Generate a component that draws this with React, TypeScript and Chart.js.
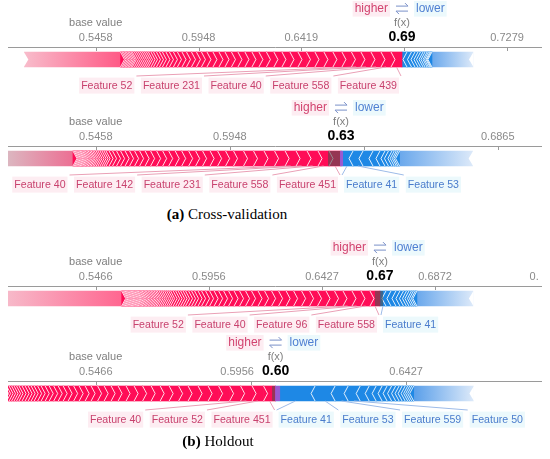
import React, { useEffect, useRef } from 'react';
import { Chart, registerables } from 'chart.js';
Chart.register(...registerables);

const SANS = "'Liberation Sans', Arial, Helvetica, sans-serif";
const RED = '#ff0d57';
const BLUE = '#1e88e5';

// ---------- (a) Cross-validation, sample 1 ----------
const cv1Base = 0.5458;
const cv1Fx = 0.6856;
const cv1Ticks = ['0.5458', '0.5948', '0.6419', '0.6865', '0.7279'];
const cv1RedNames = ['Feature 439', 'Feature 558', 'Feature 40', 'Feature 231', 'Feature 52'];
const cv1Red = [0.0214, 0.0195, 0.0195, 0.0195, 0.0185, 0.0185, 0.0175, 0.0175, 0.0175, 0.0165, 0.0165, 0.0156, 0.0156, 0.0156, 0.0146, 0.0146, 0.0136, 0.0136, 0.0136, 0.0126, 0.0126, 0.0117, 0.0117, 0.0117, 0.0107, 0.0097, 0.0097, 0.0097, 0.0088, 0.0088, 0.0078, 0.0078, 0.0068, 0.0068, 0.0058, 0.0058, 0.0058, 0.0049, 0.0049, 0.0039, 0.0039, 0.0039, 0.0039, 0.0039, 0.0039, 0.0039, 0.0039, 0.0029, 0.0029, 0.0029, 0.0029, 0.0029, 0.0029, 0.0029, 0.0029];
const cv1RedRest = 0.187;
const cv1BlueNames: string[] = [];
const cv1Blue = [0.0097, 0.0088, 0.0068, 0.0058, 0.0049, 0.0049, 0.0039, 0.0039, 0.0029, 0.0029, 0.0019, 0.0019];
const cv1BlueRest = 0.0798;

// ---------- (a) Cross-validation, sample 2 ----------
const cv2Base = 0.5458;
const cv2Fx = 0.6341;
const cv2Ticks = ['0.5458', '0.5948', '0.6419', '0.6865'];
const cv2RedNames = ['Feature 451', 'Feature 558', 'Feature 231', 'Feature 142', 'Feature 40'];
const cv2Red = [0.0179, 0.0164, 0.0164, 0.0164, 0.0164, 0.0157, 0.0157, 0.0157, 0.0149, 0.0149, 0.0119, 0.0119, 0.0112, 0.0112, 0.0104, 0.0104, 0.0104, 0.0097, 0.0097, 0.0090, 0.0090, 0.0090, 0.0082, 0.0082, 0.0075, 0.0075, 0.0067, 0.0067, 0.0060, 0.0060, 0.0052, 0.0045, 0.0030, 0.0030, 0.0030, 0.0030, 0.0027, 0.0027, 0.0024, 0.0024, 0.0022, 0.0022, 0.0022, 0.0021, 0.0021, 0.0019, 0.0019, 0.0018, 0.0018, 0.0018, 0.0018, 0.0018, 0.0018, 0.0018];
const cv2RedRest = 0.15;
const cv2BlueNames = ['Feature 41', 'Feature 53'];
const cv2Blue = [0.0179, 0.0149, 0.0149, 0.0104, 0.0075, 0.0052, 0.0052, 0.0034, 0.0030, 0.0025, 0.0025];
const cv2BlueRest = 0.109;

// ---------- (b) Holdout, sample 1 ----------
const ho1Base = 0.5466;
const ho1Fx = 0.6659;
const ho1Ticks = ['0.5466', '0.5956', '0.6427', '0.6872', '0.7279'];
const ho1RedNames = ['Feature 558', 'Feature 96', 'Feature 40', 'Feature 52'];
const ho1Red = [0.0177, 0.0159, 0.0159, 0.0159, 0.0150, 0.0150, 0.0150, 0.0141, 0.0141, 0.0141, 0.0133, 0.0133, 0.0124, 0.0124, 0.0115, 0.0115, 0.0106, 0.0106, 0.0097, 0.0097, 0.0088, 0.0088, 0.0080, 0.0080, 0.0071, 0.0071, 0.0062, 0.0062, 0.0053, 0.0053, 0.0053, 0.0044, 0.0044, 0.0044, 0.0044, 0.0044, 0.0044, 0.0035, 0.0035, 0.0035, 0.0035, 0.0032, 0.0032, 0.0032, 0.0028, 0.0028, 0.0028, 0.0027, 0.0027, 0.0027, 0.0027, 0.0025, 0.0025, 0.0025, 0.0023, 0.0023, 0.0023, 0.0021, 0.0021, 0.0021, 0.0021, 0.0021, 0.0021, 0.0021, 0.0021, 0.0021, 0.0021, 0.0021, 0.0021, 0.0021, 0.0021];
const ho1RedRest = 0.25;
const ho1BlueNames = ['Feature 41'];
const ho1Blue = [0.0106, 0.0088, 0.0088, 0.0071, 0.0062, 0.0053, 0.0044, 0.0044, 0.0035, 0.0035, 0.0027];
const ho1BlueRest = 0.099;

// ---------- (b) Holdout, sample 2 ----------
const ho2Base = 0.5466;
const ho2Fx = 0.6032;
const ho2Ticks = ['0.5466', '0.5956', '0.6427'];
const ho2RedNames = ['Feature 451', 'Feature 52', 'Feature 40'];
const ho2Red = [0.0155, 0.0148, 0.0148, 0.0142, 0.0142, 0.0135, 0.0129, 0.0129, 0.0122, 0.0122, 0.0116, 0.0116, 0.0110, 0.0110, 0.0103, 0.0103, 0.0090, 0.0090, 0.0084, 0.0084, 0.0077, 0.0077, 0.0071, 0.0071, 0.0064, 0.0064, 0.0058, 0.0058, 0.0052, 0.0052, 0.0045, 0.0045, 0.0039, 0.0039, 0.0039, 0.0039, 0.0039, 0.0032, 0.0032, 0.0032, 0.0032, 0.0032, 0.0026, 0.0026, 0.0026, 0.0026];
const ho2RedRest = 0.05;
const ho2BlueNames = ['Feature 41', 'Feature 53', 'Feature 559', 'Feature 50'];
const ho2Blue = [0.0509, 0.0258, 0.0168, 0.0155, 0.0116, 0.0090, 0.0077, 0.0064, 0.0058, 0.0052, 0.0045, 0.0039, 0.0039, 0.0032, 0.0026, 0.0026, 0.0026];
const ho2BlueRest = 0.077;

const logit = (p: number) => Math.log(p / (1 - p));

type Plot = {
  base: number; fx: number; ticks: string[];
  redNames: string[]; red: number[]; redRest: number;
  blueNames: string[]; blue: number[]; blueRest: number;
  range: [number, number]; top: number;
  redRestColors: [string, string]; blueRestColors: [string, string];
  dark?: [number, number]; purple?: [number, number];
};

const PLOTS: Plot[] = [
  { base: cv1Base, fx: cv1Fx, ticks: cv1Ticks, redNames: cv1RedNames, red: cv1Red, redRest: cv1RedRest,
    blueNames: cv1BlueNames, blue: cv1Blue, blueRest: cv1BlueRest, range: [0.0131, 1.052], top: 1,
    redRestColors: ['#ff5a86', '#f8bccb'], blueRestColors: ['#6aa8ec', '#dce9f9'] },
  { base: cv2Base, fx: cv2Fx, ticks: cv2Ticks, redNames: cv2RedNames, red: cv2Red, redRest: cv2RedRest,
    blueNames: cv2BlueNames, blue: cv2Blue, blueRest: cv2BlueRest, range: [0.0528, 0.8498], top: 100,
    redRestColors: ['#ec6f93', '#dcb6c0'], blueRestColors: ['#6aa8ec', '#dce9f9'], dark: [-13, -1], purple: [-1, 2] },
  { base: ho1Base, fx: ho1Fx, ticks: ho1Ticks, redNames: ho1RedNames, red: ho1Red, redRest: ho1RedRest,
    blueNames: ho1BlueNames, blue: ho1Blue, blueRest: ho1BlueRest, range: [0.0319, 0.9762], top: 240,
    redRestColors: ['#ff6690', '#f7b9c9'], blueRestColors: ['#6aa8ec', '#dce9f9'], dark: [-5, 3] },
  { base: ho2Base, fx: ho2Fx, ticks: ho2Ticks, redNames: ho2RedNames, red: ho2Red, redRest: ho2RedRest,
    blueNames: ho2BlueNames, blue: ho2Blue, blueRest: ho2BlueRest, range: [0.0739, 0.7622], top: 335,
    redRestColors: ['#ff7a9c', '#f9c3d1'], blueRestColors: ['#5a9fea', '#dce9f9'], dark: [-3.5, -0.5], purple: [-0.5, 4.5] },
];

function grad(c: any, near: number, far: number, cols: [string, string]) {
  const chart = c.chart;
  const xs = chart.scales && chart.scales.x;
  const area = chart.chartArea;
  if (!xs || !area) return cols[0];
  const p0 = xs.getPixelForValue(near);
  let p1 = xs.getPixelForValue(far);
  p1 = Math.min(area.right, Math.max(area.left, p1));
  if (Math.abs(p1 - p0) < 1) return cols[0];
  const g = chart.ctx.createLinearGradient(p0, 0, p1, 0);
  g.addColorStop(0, cols[0]);
  g.addColorStop(1, cols[1]);
  return g;
}

function buildDatasets(p: Plot) {
  const f = logit(p.fx);
  const ds: any[] = [];
  let cum = 0;
  p.red.forEach((v) => {
    ds.push({ data: [[f - cum - v, f - cum]], backgroundColor: RED });
    cum += v;
  });
  const redEnd = f - cum;
  ds.push({ data: [[redEnd - p.redRest, redEnd]], backgroundColor: (c: any) => grad(c, redEnd, redEnd - p.redRest, p.redRestColors) });
  cum = 0;
  p.blue.forEach((v) => {
    ds.push({ data: [[f + cum, f + cum + v]], backgroundColor: BLUE });
    cum += v;
  });
  const blueEnd = f + cum;
  ds.push({ data: [[blueEnd, blueEnd + p.blueRest]], backgroundColor: (c: any) => grad(c, blueEnd, blueEnd + p.blueRest, p.blueRestColors) });
  return ds.map((d) => ({ ...d, barThickness: 15, grouped: false, borderWidth: 0, borderSkipped: false, clip: 0 }));
}

function forcePlugin(p: Plot) {
  return {
    id: 'forceDecor',
    afterDatasetsDraw(chart: any) {
      const ctx = chart.ctx;
      const xs = chart.scales.x;
      const area = chart.chartArea;
      const A = area.top;
      const el = chart.getDatasetMeta(0).data[0];
      const top = el.y - el.height / 2;
      const bot = el.y + el.height / 2;
      const mid = el.y;
      const f = logit(p.fx);
      const fpx = xs.getPixelForValue(f);
      const D = 4;

      ctx.save();
      ctx.beginPath();
      ctx.rect(area.left, area.top, area.right - area.left, area.bottom - area.top);
      ctx.clip();
      ctx.strokeStyle = 'rgba(255,255,255,0.85)';
      ctx.lineWidth = 1;
      // red chevrons ">"
      let cum = 0;
      const redCenters: number[] = [];
      p.red.forEach((v) => {
        redCenters.push(xs.getPixelForValue(f - cum - v / 2));
        cum += v;
        const x = xs.getPixelForValue(f - cum);
        ctx.beginPath();
        ctx.moveTo(x, top);
        ctx.lineTo(x + D, mid);
        ctx.lineTo(x, bot);
        ctx.stroke();
      });
      const rs = xs.getPixelForValue(f - cum - p.redRest);
      ctx.fillStyle = '#fff';
      ctx.beginPath();
      ctx.moveTo(rs - 0.5, top);
      ctx.lineTo(rs + D, mid);
      ctx.lineTo(rs - 0.5, bot);
      ctx.closePath();
      ctx.fill();
      // blue chevrons "<"
      cum = 0;
      const blueCenters: number[] = [];
      p.blue.forEach((v) => {
        blueCenters.push(xs.getPixelForValue(f + cum + v / 2));
        cum += v;
        const x = xs.getPixelForValue(f + cum);
        ctx.beginPath();
        ctx.moveTo(x, top);
        ctx.lineTo(x - D, mid);
        ctx.lineTo(x, bot);
        ctx.stroke();
      });
      const be = xs.getPixelForValue(f + cum + p.blueRest);
      ctx.beginPath();
      ctx.moveTo(be + 0.5, top);
      ctx.lineTo(be - D, mid);
      ctx.lineTo(be + 0.5, bot);
      ctx.closePath();
      ctx.fill();
      if (p.dark) {
        ctx.fillStyle = 'rgba(80,80,80,0.6)';
        ctx.fillRect(fpx + p.dark[0], top, p.dark[1] - p.dark[0], bot - top);
      }
      if (p.purple) {
        ctx.fillStyle = '#9a5ad0';
        ctx.fillRect(fpx + p.purple[0], top, p.purple[1] - p.purple[0], bot - top);
      }
      ctx.restore();

      ctx.save();
      // tick marks below the axis line
      ctx.strokeStyle = '#9a9a9a';
      ctx.lineWidth = 1;
      xs.ticks.forEach((t: any) => {
        const x = xs.getPixelForValue(t.value);
        if (x < area.left || x > area.right) return;
        const xr = Math.round(x) + 0.5;
        ctx.beginPath();
        ctx.moveTo(xr, A);
        ctx.lineTo(xr, A + 4);
        ctx.stroke();
      });
      // f(x) value
      const fxText = p.fx.toFixed(2);
      ctx.font = `bold 14px ${SANS}`;
      const wf = ctx.measureText(fxText).width;
      ctx.textAlign = 'center';
      ctx.textBaseline = 'middle';
      ctx.fillStyle = '#000';
      ctx.fillText(fxText, fpx, A - 10);
      // tick labels (clipped near the plot's right edge)
      ctx.save();
      ctx.beginPath();
      ctx.rect(0, 0, area.right - 3.5, A);
      ctx.clip();
      ctx.font = `11px ${SANS}`;
      ctx.fillStyle = '#8a8a8a';
      xs.ticks.forEach((t: any, i: number) => {
        const label = p.ticks[i];
        let c = xs.getPixelForValue(t.value);
        const w = ctx.measureText(label).width;
        const dist = c - fpx;
        if (Math.abs(dist) < 23.5) return;
        const minGap = wf / 2 + w / 2 + 8;
        if (Math.abs(dist) < minGap) c = fpx + Math.sign(dist) * minGap;
        ctx.fillText(label, c, A - 9.5);
      });
      ctx.restore();
      // base value / f(x)
      ctx.font = `11px ${SANS}`;
      ctx.textAlign = 'center';
      ctx.textBaseline = 'middle';
      ctx.fillStyle = '#7f7f7f';
      ctx.fillText('base value', xs.getPixelForValue(logit(p.base)), A - 24);
      ctx.fillText('f(x)', fpx, A - 24);
      // higher <-> lower
      const hy = A - 38.4;
      ctx.font = `12px ${SANS}`;
      const wh = ctx.measureText('higher').width;
      const wl = ctx.measureText('lower').width;
      ctx.fillStyle = '#fdedf2';
      ctx.fillRect(fpx - 14 - wh - 2, hy - 8, wh + 4, 16);
      ctx.fillStyle = '#ecf9fc';
      ctx.fillRect(fpx + 12, hy - 8, wl + 4, 16);
      ctx.textAlign = 'right';
      ctx.fillStyle = '#d2436f';
      ctx.fillText('higher', fpx - 14, hy);
      ctx.textAlign = 'left';
      ctx.fillStyle = '#5080d2';
      ctx.fillText('lower', fpx + 14, hy);
      ctx.strokeStyle = '#7a90c8';
      ctx.beginPath();
      ctx.moveTo(fpx - 6, hy - 2.5);
      ctx.lineTo(fpx + 6, hy - 2.5);
      ctx.lineTo(fpx + 3, hy - 5.5);
      ctx.moveTo(fpx + 6, hy + 2.5);
      ctx.lineTo(fpx - 6, hy + 2.5);
      ctx.lineTo(fpx - 3, hy + 5.5);
      ctx.stroke();
      // feature labels
      const ly = A + 38.6;
      ctx.font = `10.6px ${SANS}`;
      let right = fpx - 5;
      p.redNames.forEach((name, i) => {
        const w = ctx.measureText(name).width;
        const left = right - w;
        ctx.fillStyle = '#fdedf2';
        ctx.fillRect(left - 2, ly - 8, w + 4, 16);
        ctx.fillStyle = '#c8426e';
        ctx.textAlign = 'left';
        ctx.fillText(name, left, ly);
        ctx.strokeStyle = '#eaa0b6';
        ctx.beginPath();
        ctx.moveTo(right + 4, A + 29);
        ctx.lineTo(redCenters[i], bot);
        ctx.stroke();
        right = left - 10.5;
      });
      let leftX = fpx + 5;
      p.blueNames.forEach((name, i) => {
        const w = ctx.measureText(name).width;
        ctx.fillStyle = '#ecf9fc';
        ctx.fillRect(leftX - 2, ly - 8, w + 4, 16);
        ctx.fillStyle = '#4a7ccc';
        ctx.textAlign = 'left';
        ctx.fillText(name, leftX, ly);
        ctx.strokeStyle = '#9dbbe8';
        ctx.beginPath();
        ctx.moveTo(leftX - 4, A + 29);
        ctx.lineTo(blueCenters[i], bot);
        ctx.stroke();
        leftX = leftX + w + 10.5;
      });
      ctx.restore();
    },
  };
}

function ForceChart({ plot }: { plot: Plot }) {
  const ref = useRef<HTMLCanvasElement>(null);
  useEffect(() => {
    const chart = new Chart(ref.current as HTMLCanvasElement, {
      type: 'bar',
      data: { labels: [''], datasets: buildDatasets(plot) },
      options: {
        indexAxis: 'y',
        responsive: false,
        animation: false,
        events: [],
        layout: { padding: { left: 8, right: 0, top: 0, bottom: 27 } },
        plugins: { legend: { display: false }, tooltip: { enabled: false } },
        scales: {
          x: {
            type: 'linear',
            position: 'top',
            min: plot.range[0],
            max: plot.range[1],
            grid: { display: false },
            border: { display: true, color: '#9a9a9a', width: 1 },
            ticks: { display: false },
            afterBuildTicks: (s: any) => {
              s.ticks = plot.ticks.map((t) => ({ value: logit(parseFloat(t)) }));
            },
            afterFit: (s: any) => {
              s.height = 46;
              s.paddingLeft = 0;
              s.paddingRight = 0;
            },
          },
          y: { type: 'category', display: false, offset: true },
        },
      } as any,
      plugins: [forcePlugin(plot)],
    });
    return () => chart.destroy();
  }, [plot]);
  return (
    <canvas
      ref={ref}
      width={542}
      height={98}
      style={{ position: 'absolute', left: 0, top: plot.top, width: 542, height: 98 }}
    />
  );
}

export default function App() {
  const cap: React.CSSProperties = {
    position: 'absolute', width: 300, textAlign: 'center',
    font: "15px 'Liberation Serif', 'Times New Roman', serif", lineHeight: '18px', color: '#000',
  };
  return (
    <div style={{ position: 'absolute', left: 0, top: 0, width: 550, height: 459, background: '#fff', overflow: 'hidden' }}>
      {PLOTS.map((p, i) => (
        <ForceChart key={i} plot={p} />
      ))}
      <div style={{ ...cap, left: 77, top: 205 }}><b>(a)</b> Cross-validation</div>
      <div style={{ ...cap, left: 68, top: 432 }}><b>(b)</b> Holdout</div>
    </div>
  );
}
